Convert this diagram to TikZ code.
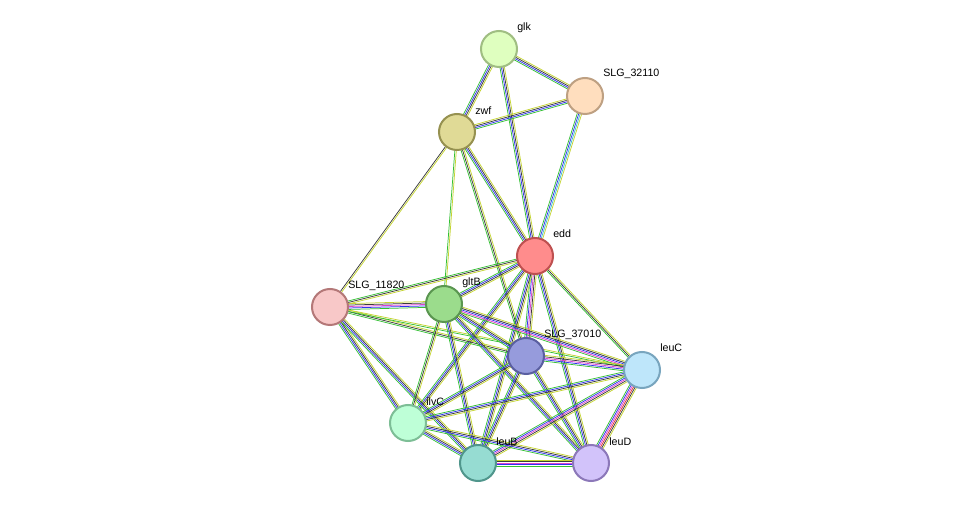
\documentclass[tikz,border=0pt]{standalone}
\usepackage{fontspec}
\setmainfont{Liberation Sans}
\usetikzlibrary{calc}
\definecolor{sg}{HTML}{33C033}
\definecolor{sb}{HTML}{3232F0}
\definecolor{sk}{HTML}{3A3A3A}
\definecolor{sy}{HTML}{C4D430}
\definecolor{sm}{HTML}{E040D0}
\definecolor{sc}{HTML}{40C0D0}
\definecolor{sr}{HTML}{E03030}
\newcommand\sedge[4]{%
  \foreach \cc [count=\i] in {#4} {%
    \pgfmathsetmacro\oo{(\i-(#3+1)/2)*1.1}%
    \draw[draw=\cc, line width=0.55pt] ($(#1)!\oo pt!90:(#2)$) -- ($(#2)!\oo pt!-90:(#1)$);
  }}
\tikzset{prot/.style={circle, minimum size=27pt, inner sep=0pt, line width=1.5pt},
  lab/.style={font=\fontsize{8}{9}\selectfont, anchor=west, inner sep=0pt}}
\begin{document}
\begin{tikzpicture}[x=0.75pt,y=-0.75pt]
\useasboundingbox (0,0) rectangle (976,509);
\fill[white] (0,0) rectangle (976,509);
\coordinate (glk) at (499,49);
\coordinate (s32) at (585,96);
\coordinate (zwf) at (457,132);
\coordinate (edd) at (535,256);
\coordinate (s11) at (330,307);
\coordinate (glt) at (444,304);
\coordinate (s37) at (526,356);
\coordinate (luc) at (642,370);
\coordinate (ilv) at (408,423);
\coordinate (lub) at (478,463);
\coordinate (lud) at (591,463);
\def\std{sg,sb,sk,sy}
\sedge{glk}{zwf}{4}{sg,sb,sk,sy}
\sedge{glk}{s32}{4}{sg,sb,sk,sy}
\sedge{glk}{edd}{4}{sg,sb,sk,sy}
\sedge{zwf}{s32}{4}{sg,sb,sk,sy}
\sedge{s32}{edd}{4}{sg,sb,sc,sy}
\sedge{zwf}{edd}{4}{sg,sb,sk,sy}
\sedge{zwf}{s11}{2}{sk,sy}
\sedge{zwf}{glt}{2}{sg,sy}
\sedge{zwf}{s37}{3}{sg,sk,sy}
\sedge{edd}{s11}{3}{sg,sk,sy}
\sedge{edd}{glt}{4}{sg,sb,sk,sy}
\sedge{edd}{s37}{5}{sg,sb,sm,sk,sy}
\sedge{edd}{luc}{3}{sg,sk,sy}
\sedge{edd}{ilv}{4}{sg,sb,sk,sy}
\sedge{edd}{lub}{4}{sg,sb,sk,sy}
\sedge{edd}{lud}{4}{sg,sb,sk,sy}
\sedge{s11}{glt}{5}{sg,sb,sm,sk,sy}
\sedge{s11}{s37}{3}{sg,sk,sy}
\sedge{s11}{luc}{2}{sg,sy}
\sedge{s11}{ilv}{4}{sg,sb,sk,sy}
\sedge{s11}{lub}{4}{sg,sb,sk,sy}
\sedge{glt}{s37}{4}{sg,sb,sk,sy}
\sedge{glt}{luc}{5}{sg,sm,sb,sk,sy}
\sedge{glt}{ilv}{3}{sg,sk,sy}
\sedge{glt}{lub}{4}{sg,sb,sk,sy}
\sedge{glt}{lud}{4}{sg,sb,sk,sy}
\sedge{s37}{luc}{5}{sg,sb,sm,sk,sy}
\sedge{s37}{ilv}{4}{sg,sb,sk,sy}
\sedge{s37}{lub}{4}{sg,sb,sk,sy}
\sedge{s37}{lud}{4}{sg,sb,sk,sy}
\sedge{luc}{ilv}{4}{sg,sb,sk,sy}
\sedge{luc}{lub}{5}{sg,sb,sm,sk,sy}
\sedge{luc}{lud}{6}{sg,sb,sm,sr,sk,sy}
\sedge{ilv}{lub}{4}{sg,sb,sk,sy}
\sedge{ilv}{lud}{4}{sg,sb,sk,sy}
\sedge{lub}{lud}{5}{sg,sb,sm,sk,sy}
\node[prot, fill={rgb,255:red,223;green,255;blue,191}, draw={rgb,255:red,160;green,190;blue,130}] (nglk) at (glk) {};
\node[prot, fill={rgb,255:red,255;green,222;blue,190}, draw={rgb,255:red,190;green,160;blue,130}] (ns32) at (s32) {};
\node[prot, fill={rgb,255:red,224;green,218;blue,150}, draw={rgb,255:red,150;green,145;blue,80}] (nzwf) at (zwf) {};
\node[prot, fill={rgb,255:red,255;green,140;blue,140}, draw={rgb,255:red,190;green,80;blue,80}] (nedd) at (edd) {};
\node[prot, fill={rgb,255:red,248;green,200;blue,200}, draw={rgb,255:red,180;green,120;blue,120}] (ns11) at (s11) {};
\node[prot, fill={rgb,255:red,155;green,220;blue,140}, draw={rgb,255:red,90;green,150;blue,80}] (nglt) at (glt) {};
\node[prot, fill={rgb,255:red,150;green,155;blue,220}, draw={rgb,255:red,90;green,95;blue,160}] (ns37) at (s37) {};
\node[prot, fill={rgb,255:red,190;green,230;blue,250}, draw={rgb,255:red,120;green,165;blue,190}] (nluc) at (luc) {};
\node[prot, fill={rgb,255:red,190;green,255;blue,215}, draw={rgb,255:red,125;green,190;blue,150}] (nilv) at (ilv) {};
\node[prot, fill={rgb,255:red,150;green,220;blue,210}, draw={rgb,255:red,80;green,150;blue,140}] (nlub) at (lub) {};
\node[prot, fill={rgb,255:red,210;green,195;blue,250}, draw={rgb,255:red,140;green,120;blue,185}] (nlud) at (lud) {};
\node[lab] (tglk) at (517,28) {glk};
\node[lab] (ts32) at (603,74) {SLG\_32110};
\node[lab] (tzwf) at (475,111) {zwf};
\node[lab] (tedd) at (553,234) {edd};
\node[lab] (ts11) at (348,286) {SLG\_11820};
\node[lab] (tglt) at (462,283) {gltB};
\node[lab] (ts37) at (544,335) {SLG\_37010};
\node[lab] (tluc) at (660,348) {leuC};
\node[lab] (tilv) at (426,402) {ilvC};
\node[lab] (tlub) at (496,442) {leuB};
\node[lab] (tlud) at (609,442) {leuD};
\end{tikzpicture}
\end{document}
